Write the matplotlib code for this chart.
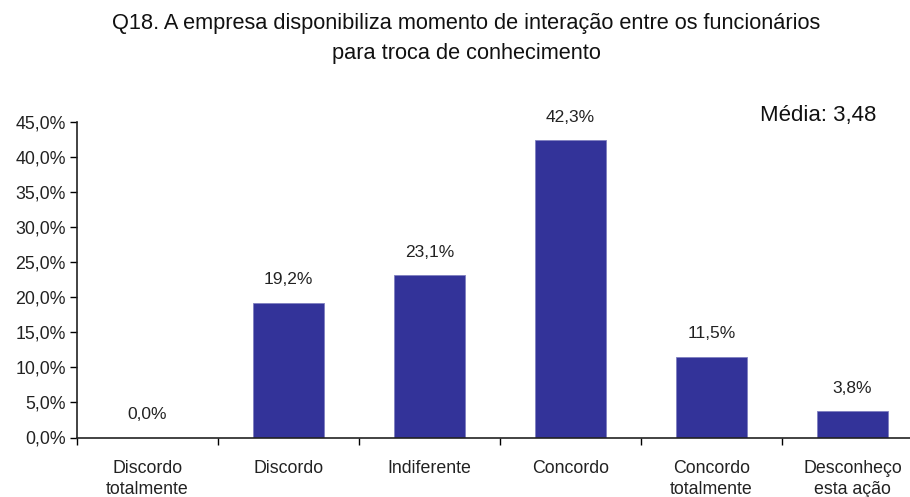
import matplotlib.pyplot as plt
from matplotlib.ticker import FuncFormatter

plt.rcParams['font.family'] = ['Liberation Sans', 'DejaVu Sans']

categorias = ["Discordo\ntotalmente", "Discordo", "Indiferente", "Concordo",
              "Concordo\ntotalmente", "Desconheço\nesta ação"]
percentuais = [0.0, 19.2, 23.1, 42.3, 11.5, 3.8]
media = "3,48"

fig = plt.figure(figsize=(9.1, 4.97), dpi=100)
# a area do grafico passa um pouco da borda direita da figura
ax = fig.add_axes([77 / 910, 1 - 437.5 / 497, 846 / 910, 316 / 497])

x = range(len(categorias))
ax.bar(x, percentuais, width=0.5, color='#333399', edgecolor='#8080c0',
       linewidth=0.6, zorder=2)

for xi, v in zip(x, percentuais):
    ax.annotate(("%.1f%%" % v).replace('.', ','), (xi, v),
                xytext=(0, 11), textcoords='offset points',
                ha='center', va='bottom', fontsize=12.5, color='#222222')

ax.set_xlim(-0.5, len(categorias) - 0.5)
ax.set_ylim(0, 45)
ax.set_yticks(range(0, 46, 5))
ax.yaxis.set_major_formatter(
    FuncFormatter(lambda v, p: ("%.1f%%" % v).replace('.', ',')))

# marcas do eixo x entre as categorias, rotulos no centro
ax.set_xticks([i - 0.5 for i in range(len(categorias) + 1)])
ax.set_xticklabels([])
ax.set_xticks(list(x), minor=True)
ax.set_xticklabels(categorias, minor=True, fontsize=12.8, color='#222222',
                   linespacing=1.35)
ax.tick_params(axis='x', which='minor', length=0, pad=16)
ax.tick_params(axis='x', which='major', length=5, width=1, direction='out')
ax.tick_params(axis='y', length=5, width=1, direction='out',
               labelsize=12.8, labelcolor='#222222', pad=3)

for s in ['top', 'right']:
    ax.spines[s].set_visible(False)
for s in ['left', 'bottom']:
    ax.spines[s].set_linewidth(1.2)
    ax.spines[s].set_color('#222222')

fig.text(466 / 910, 1 - 23 / 497,
         "Q18. A empresa disponibiliza momento de interação entre os funcionários",
         ha='center', va='center', fontsize=15.7, color='#111111')
fig.text(466 / 910, 1 - 53 / 497, "para troca de conhecimento",
         ha='center', va='center', fontsize=15.7, color='#111111')
fig.text(818 / 910, 1 - 116 / 497, "Média: " + media,
         ha='center', va='center', fontsize=16, color='#111111')

plt.savefig('out.png', dpi=100)
